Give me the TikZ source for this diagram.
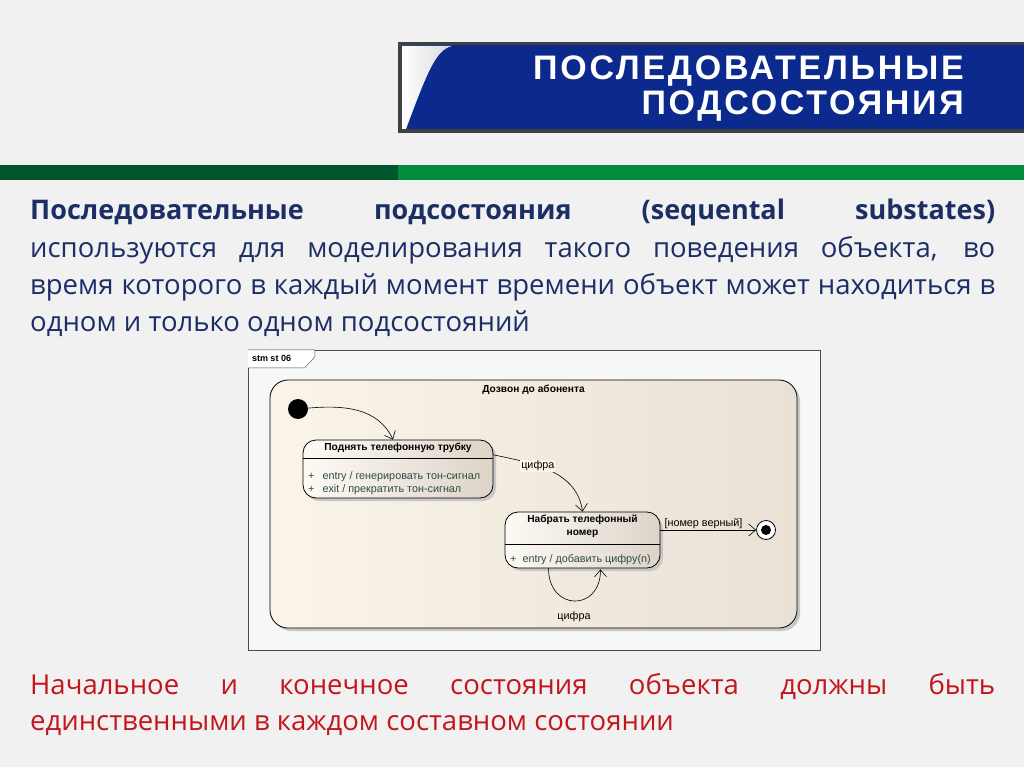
\documentclass[tikz,border=0pt]{standalone}
\usepackage{fontspec}
\setmainfont{Open Sans}
\newfontfamily\headfont[LetterSpace=8]{Liberation Sans}
\newfontfamily\umlfont{Liberation Sans}
\usetikzlibrary{arrows.meta,calc,positioning}

\definecolor{pagebg}{HTML}{F1F1F1}
\definecolor{headblue}{HTML}{2158D4}
\definecolor{headdark}{HTML}{0C2A8E}
\definecolor{greendark}{HTML}{00552D}
\definecolor{greenlight}{HTML}{008C3B}
\definecolor{textblue}{HTML}{1C2E66}
\definecolor{textred}{HTML}{C3161C}
\definecolor{framebg}{HTML}{F7F7F7}
\definecolor{creamleft}{HTML}{FBF4E8}
\definecolor{creamright}{HTML}{E9E1D6}
\definecolor{stateleft}{HTML}{FDFAF4}
\definecolor{stateright}{HTML}{DDD4C8}
\definecolor{entrygreen}{HTML}{2E4A44}

\tikzset{
  shadowed/.style={preaction={fill=black!22, transform canvas={xshift=3pt, yshift=-3pt}}},
  composite/.style={draw, thick, rounded corners=18pt, left color=creamleft, right color=creamright, shadowed, inner sep=0pt},
  state/.style={draw, thick, rounded corners=13pt, left color=stateleft, right color=stateright, shadowed, inner sep=0pt},
  trans/.style={semithick, -{Straight Barb[length=7pt, width=12pt]}},
  uml/.style={font=\umlfont\fontsize{10.8}{12}\selectfont, inner sep=1pt},
  umlbold/.style={font=\umlfont\bfseries\fontsize{10.2}{13}\selectfont, inner sep=1pt, align=center},
  entry/.style={uml, text=entrygreen, anchor=west},
  bodyline/.style={anchor=base west, inner sep=0pt, font=\fontsize{27.5}{37}\selectfont},
}

\begin{document}
\begin{tikzpicture}[x=1pt, y=1pt]
\useasboundingbox (0,0) rectangle (1024,-767);
\fill[pagebg] (0,0) rectangle (1024,-767);

%header
\fill[black!75] (398,-42) rectangle (1024,-133);
\shade[top color=headdark, middle color=headblue, bottom color=headdark] (402,-46) rectangle (1024,-129);
\shade[left color=white, right color=black!15] (402,-46) -- (452,-46) .. controls (436,-50) and (428,-70) .. (406,-129) -- (402,-129) -- cycle;
\node (title) [anchor=base east, align=right, text=white, inner sep=0pt,
  font=\headfont\bfseries\fontsize{34}{35}\selectfont] at (964,-115)
  {ПОСЛЕДОВАТЕЛЬНЫЕ\\ПОДСОСТОЯНИЯ};

%green bar
\fill[greendark] (0,-165) rectangle (398,-180);
\fill[greenlight] (398,-165) rectangle (1024,-180);

%body text
\node (line1) [bodyline, text=textblue, font=\bfseries\fontsize{27}{37}\selectfont] at (30,-219)
  {\makebox[965pt][s]{Последовательные подсостояния (sequental substates)}};
\node (line2) [bodyline, text=textblue] at (30,-257)
  {\makebox[965pt][s]{используются для моделирования такого поведения объекта, во}};
\node (line3) [bodyline, text=textblue] at (30,-294)
  {\makebox[965pt][s]{время которого в каждый момент времени объект может находиться в}};
\node (line4) [bodyline, text=textblue] at (30,-331)
  {одном и только одном подсостояний};
\node (note1) [bodyline, text=textred] at (30,-694)
  {\makebox[965pt][s]{Начальное и конечное состояния объекта должны быть}};
\node (note2) [bodyline, text=textred] at (30,-730)
  {единственными в каждом составном состоянии};

%diagram frame
\node (frame) [draw=black!70, fill=framebg, minimum width=572pt, minimum height=300pt, inner sep=0pt] at (534,-500) {};
\draw[black!70, fill=white] (frame.north west) -- ++(67,0) -- ++(0,-7) -- ++(-10,-11) -- ($(frame.north west)+(0,-18)$);
\node (tag) [uml, font=\umlfont\bfseries\fontsize{9}{10}\selectfont, anchor=west] at ($(frame.north west)+(3,-9)$) {stm st 06};

%composite state
\node (call) [composite, minimum width=527pt, minimum height=248pt] at (533.5,-504) {};
\node (calltitle) [umlbold, below=4pt of call.north] {Дозвон до абонента};

%initial and final
\node (init) [circle, fill=black, minimum size=20pt, inner sep=0pt] at (298,-409) {};
\node (fin) [circle, draw, thick, fill=white, minimum size=19pt, inner sep=0pt] at (766,-530) {};
\node (finDot) [circle, fill=black, minimum size=10pt, inner sep=0pt] at (fin) {};

%state 1
\node (lift) [state, minimum width=190pt, minimum height=58pt] at (398,-469) {};
\node (liftTitle) [umlbold, below=2pt of lift.north] {Поднять телефонную трубку};
\draw[thick] ($(lift.north west)+(0,-19)$) -- ($(lift.north east)+(0,-19)$);
\node (liftEntry) [entry] at (307,-477) {+\hspace{8pt}entry / генерировать тон-сигнал};
\node (liftExit) [entry] at (307,-490) {+\hspace{8pt}exit / прекратить тон-сигнал};

%state 2
\node (dial) [state, minimum width=155pt, minimum height=56pt] at (582.5,-540) {};
\node (dialTitle) [umlbold, below=2pt of dial.north] {Набрать телефонный\\номер};
\draw[thick] ($(dial.north west)+(0,-33)$) -- ($(dial.north east)+(0,-33)$);
\node (dialEntry) [entry] at (509,-560) {+\hspace{6pt}entry / добавить цифру(n)};

%transitions
\draw[trans] (init) to[out=5, in=115] ($(lift.north)+(-5,0)$);
\draw[trans] ($(lift.north east)+(-1,-15)$) to[out=-12, in=98]
  node[pos=0.38, uml, fill=creamleft] (digit1) {цифра} (dial.north);
\draw[trans] ($(dial.east)+(0,10)$) -- node[above, uml, pos=0.45] (valid) {[номер верный]} (fin);
\coordinate (loopA) at ($(dial.south)+(-34,0)$);
\coordinate (loopB) at ($(dial.south)+(18,-1)$);
\draw[trans] (loopA) to[out=-90, in=-90, looseness=2.1] (loopB);
\node (digit2) [uml] at (574,-617) {цифра};

\end{tikzpicture}
\end{document}
